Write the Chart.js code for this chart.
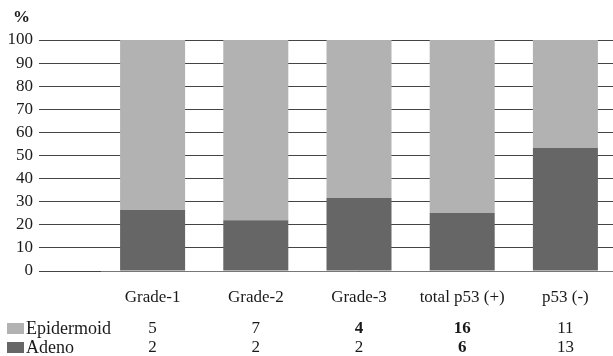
<!DOCTYPE html>
<html>
<head>
<meta charset="utf-8">
<script src="https://cdn.jsdelivr.net/npm/chart.js@4/dist/chart.umd.min.js"></script>
<style>
  html, body { margin: 0; padding: 0; background: #fff; overflow: hidden; }
  #wrap { width: 617px; height: 356px; }
</style>
</head>
<body>
<div id="wrap"><canvas id="c" width="617" height="356"></canvas></div>
<script>
// Tumour groups along the x axis
const categories = ['Grade-1', 'Grade-2', 'Grade-3', 'total p53 (+)', 'p53 (-)'];
// Share of each histology within a group (%)
const adenoPct = [26.4, 22.0, 31.6, 25.1, 53.3];
const epidermoidPct = [73.6, 78.0, 68.4, 74.9, 46.7];
// Case counts shown in the table under the axis
const epidermoidCounts = ['5', '7', '4', '16', '11'];
const adenoCounts = ['2', '2', '2', '6', '13'];
// Counts printed in bold
const epidermoidBold = [false, false, true, true, false];
const adenoBold = [false, false, false, true, false];
const yTicks = [0, 10, 20, 30, 40, 50, 60, 70, 80, 90, 100];

const FONT = '"Liberation Serif", "Times New Roman", serif';
const TEXT = '#1a1a1a';
const LIGHT = '#b2b2b2';
const DARK = '#666666';

const tablePlugin = {
  id: 'dataTable',
  afterDraw(chart) {
    const ctx = chart.ctx;
    const x = chart.scales.x;
    ctx.save();
    ctx.fillStyle = TEXT;
    ctx.textBaseline = 'middle';
    // unit label above the value axis
    ctx.font = 'bold 17px ' + FONT;
    ctx.textAlign = 'left';
    ctx.fillText('%', 13, 18);

    const rows = [
      { name: 'Epidermoid', color: LIGHT, vals: epidermoidCounts, bold: epidermoidBold, y: 329 },
      { name: 'Adeno', color: DARK, vals: adenoCounts, bold: adenoBold, y: 348 }
    ];
    rows.forEach(r => {
      ctx.fillStyle = r.color;
      ctx.fillRect(7, r.y - 6, 17, 11);
      ctx.fillStyle = TEXT;
      ctx.textAlign = 'left';
      ctx.font = '18px ' + FONT;
      ctx.fillText(r.name, 26, r.y);
      ctx.textAlign = 'center';
      r.vals.forEach((v, i) => {
        ctx.font = (r.bold[i] ? 'bold ' : '') + '17px ' + FONT;
        ctx.fillText(v, x.getPixelForValue(i), r.y);
      });
    });
    ctx.restore();
  }
};

new Chart(document.getElementById('c'), {
  type: 'bar',
  data: {
    labels: categories,
    datasets: [
      { label: 'Adeno', data: adenoPct, backgroundColor: DARK },
      { label: 'Epidermoid', data: epidermoidPct, backgroundColor: LIGHT }
    ]
  },
  options: {
    responsive: false,
    animation: false,
    devicePixelRatio: 1,
    layout: { padding: { top: 40, right: 0, bottom: 0, left: 0 } },
    datasets: { bar: { categoryPercentage: 1, barPercentage: 0.63 } },
    plugins: { legend: { display: false }, tooltip: { enabled: false } },
    scales: {
      x: {
        stacked: true,
        grid: { display: false },
        border: { display: true, color: '#777', width: 1 },
        ticks: { color: TEXT, font: { family: FONT, size: 17 }, padding: 8 },
        afterFit(s) { s.height = 85; }
      },
      y: {
        stacked: true,
        min: 0,
        max: 100,
        afterBuildTicks(s) { s.ticks = yTicks.map(v => ({ value: v })); },
        grid: { color: '#444', lineWidth: 1, tickLength: 62, drawTicks: true },
        border: { display: false },
        ticks: { color: TEXT, font: { family: FONT, size: 17 }, padding: 6, autoSkip: false, stepSize: 10 },
        afterFit(s) { s.width = 101; }
      }
    }
  },
  plugins: [tablePlugin]
});
</script>
</body>
</html>
